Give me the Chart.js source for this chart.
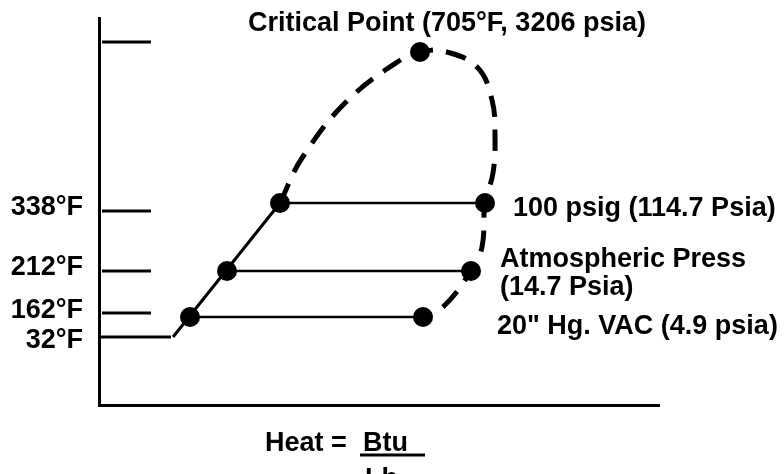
<!DOCTYPE html>
<html lang="en">
<head>
  <meta charset="UTF-8">
  <title>Saturation Dome</title>
  <script src="https://cdn.jsdelivr.net/npm/chart.js"></script>
  <style>
    body { margin: 0; background: #fff; }
    canvas { display: block; }
  </style>
</head>
<body>
  <canvas id="domeChart" width="784" height="474"></canvas>

  <script>
    // diagram units: x = heat (0..560), y = height on temperature axis (0..387)
    const axisLabels = ['32°F', '162°F', '212°F', '338°F'];
    const axisLabelY = [64, 94, 137, 197];
    const tickY = [92, 134, 194, 363];

    // freezing line (32°F) and saturated liquid line
    const freezeX = 74;
    const freezeY = 68;

    // pressure levels: 162°F, 212°F, 338°F
    const levelY = [88, 134, 202];
    const liquidX = [91, 128, 181];
    const vaporX = [324, 372, 386];

    const criticalX = 321;
    const criticalY = 353;

    // dome outline (liquid side -> critical point -> vapour side)
    const domeX = [181, 203, 249, 306, 321, 344, 378, 393, 396, 394, 386, 383, 372, 344, 324];
    const domeY = [202, 247, 305, 348, 353, 354, 338, 305, 268, 232, 202, 158, 134, 98, 88];

    const FONT = "bold 27px 'Liberation Sans', Arial, sans-serif";

    const texts = [
      { t: 'Critical Point (705°F, 3206 psia)', x: 149, y: 381 },
      { t: '100 psig (114.7 Psia)', x: 414, y: 196 },
      { t: 'Atmospheric Press', x: 401, y: 145 },
      { t: '(14.7 Psia)', x: 401, y: 117 },
      { t: '20" Hg. VAC (4.9 psia)', x: 398, y: 78 },
      { t: 'Heat =', x: 166, y: -39 },
      { t: 'Btu', x: 264, y: -39 },
      { t: 'Lb', x: 266, y: -75 }
    ];

    const datasets = [];

    // dashed dome
    datasets.push({
      data: domeX.map((x, i) => ({ x: x, y: domeY[i] })),
      showLine: true, tension: 0.4, pointRadius: 0,
      borderColor: '#000', borderWidth: 5, borderDash: [21, 13]
    });

    // saturated liquid line
    datasets.push({
      data: [{ x: freezeX, y: freezeY }, { x: liquidX[2], y: levelY[2] }],
      showLine: true, pointRadius: 0, borderColor: '#000', borderWidth: 3
    });

    // 32°F line from the axis
    datasets.push({
      data: [{ x: 0, y: freezeY }, { x: freezeX - 2, y: freezeY }],
      showLine: true, pointRadius: 0, borderColor: '#000', borderWidth: 3
    });

    // short tick marks
    tickY.forEach(y => {
      datasets.push({
        data: [{ x: 3, y: y }, { x: 52, y: y }],
        showLine: true, pointRadius: 0, borderColor: '#000', borderWidth: 3
      });
    });

    // constant pressure lines
    levelY.forEach((y, i) => {
      datasets.push({
        data: [{ x: liquidX[i], y: y }, { x: vaporX[i], y: y }],
        showLine: true, pointRadius: 0, borderColor: '#000', borderWidth: 2.5
      });
    });

    // dots
    const dots = [];
    levelY.forEach((y, i) => {
      dots.push({ x: liquidX[i], y: y });
      dots.push({ x: vaporX[i], y: y });
    });
    dots.push({ x: criticalX, y: criticalY });
    datasets.push({
      data: dots, showLine: false, pointRadius: 10,
      pointBackgroundColor: '#000', pointBorderColor: '#000', pointBorderWidth: 0
    });

    const textPlugin = {
      id: 'texts',
      afterDraw(chart) {
        const ctx = chart.ctx;
        const xs = chart.scales.x, ys = chart.scales.y;
        ctx.save();
        ctx.fillStyle = '#000';
        ctx.font = FONT;
        ctx.textAlign = 'left';
        ctx.textBaseline = 'middle';
        texts.forEach(o => {
          ctx.fillText(o.t, xs.getPixelForValue(o.x), ys.getPixelForValue(o.y));
        });
        // fraction bar
        ctx.lineWidth = 3;
        ctx.beginPath();
        ctx.moveTo(xs.getPixelForValue(261), ys.getPixelForValue(-50));
        ctx.lineTo(xs.getPixelForValue(326), ys.getPixelForValue(-50));
        ctx.stroke();
        ctx.restore();
      }
    };

    new Chart(document.getElementById('domeChart'), {
      type: 'scatter',
      data: { datasets: datasets },
      options: {
        responsive: false,
        animation: false,
        layout: { padding: { top: 18, right: 125, left: 0, bottom: 0 } },
        plugins: { legend: { display: false }, tooltip: { enabled: false } },
        scales: {
          x: {
            min: 0, max: 560,
            grid: { display: false, drawTicks: false },
            border: { display: true, color: '#000', width: 3 },
            ticks: { display: false },
            afterFit(scale) {
              scale.height = 69;
              scale.paddingLeft = 0; scale.paddingRight = 0;
            }
          },
          y: {
            min: 0, max: 387,
            grid: { display: false, drawTicks: false },
            border: { display: true, color: '#000', width: 3 },
            afterBuildTicks(scale) {
              scale.ticks = axisLabelY.map(v => ({ value: v }));
            },
            ticks: {
              color: '#000',
              padding: 16,
              font: { family: "'Liberation Sans', Arial, sans-serif", size: 27, weight: 'bold' },
              callback: (v, i) => axisLabels[i]
            },
            afterFit(scale) {
              scale.width = 99;
              scale.paddingTop = 0; scale.paddingBottom = 0;
            }
          }
        }
      },
      plugins: [textPlugin]
    });
  </script>
</body>
</html>
